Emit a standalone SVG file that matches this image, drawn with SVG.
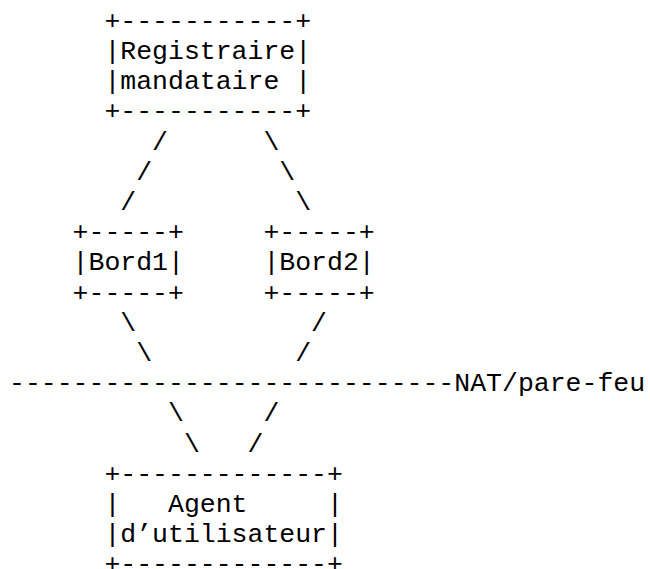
<svg xmlns="http://www.w3.org/2000/svg" width="650" height="569" viewBox="0 0 650 569">
  <style>
    text { font-family: "Liberation Mono", "Courier New", monospace; font-size: 26.5px; fill: #000; white-space: pre; }
  </style>
  <rect width="650" height="569" fill="#fff"/>
  <!-- monospace grid: column c at x = 9 + 15.9*c, row r baseline at y = 28.8 + 30.2*r -->
  <g id="registraire-mandataire" xml:space="preserve">
    <text x="104.4" y="28.8">+-----------+</text>
    <text x="104.4" y="59">|Registraire|</text>
    <text x="104.4" y="89.2">|mandataire |</text>
    <text x="104.4" y="119.4">+-----------+</text>
  </g>
  <g id="bord1" xml:space="preserve">
    <text x="72.6" y="240.2">+-----+</text>
    <text x="72.6" y="270.4">|Bord1|</text>
    <text x="72.6" y="300.6">+-----+</text>
  </g>
  <g id="bord2" xml:space="preserve">
    <text x="263.4" y="240.2">+-----+</text>
    <text x="263.4" y="270.4">|Bord2|</text>
    <text x="263.4" y="300.6">+-----+</text>
  </g>
  <g id="nat-pare-feu" xml:space="preserve">
    <text x="9" y="391.2">----------------------------NAT/pare-feu</text>
  </g>
  <g id="agent-utilisateur" xml:space="preserve">
    <text x="104.4" y="481.8">+-------------+</text>
    <text x="104.4" y="512">|   Agent     |</text>
    <text x="104.4" y="542.2">|d’utilisateur|</text>
    <text x="104.4" y="572.4">+-------------+</text>
  </g>
  <g id="connectors">
    <text x="152.1" y="149.6">/</text>
    <text x="263.4" y="149.6">\</text>
    <text x="136.2" y="179.8">/</text>
    <text x="279.3" y="179.8">\</text>
    <text x="120.3" y="210">/</text>
    <text x="295.2" y="210">\</text>
    <text x="120.3" y="330.8">\</text>
    <text x="311.1" y="330.8">/</text>
    <text x="136.2" y="361">\</text>
    <text x="295.2" y="361">/</text>
    <text x="168" y="421.4">\</text>
    <text x="263.4" y="421.4">/</text>
    <text x="183.9" y="451.6">\</text>
    <text x="247.5" y="451.6">/</text>
  </g>
</svg>
